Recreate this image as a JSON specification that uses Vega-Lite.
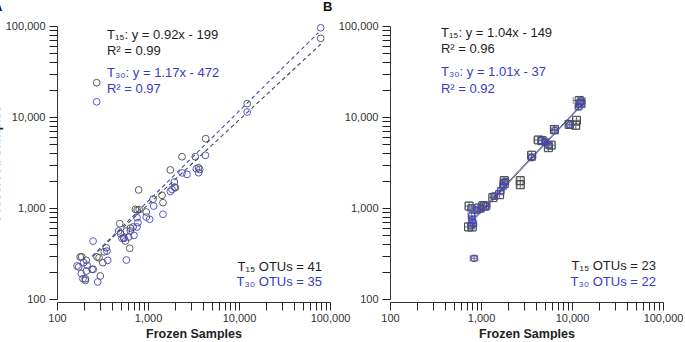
{
  "$schema": "https://vega.github.io/schema/vega-lite/v6.json",
  "autosize": {"type": "pad"},
  "padding": {"left": -11, "top": 1, "right": 0, "bottom": 0},
  "background": "white",
  "bounds": "flush",
  "spacing": 60,
  "config": {
    "view": {"stroke": null},
    "font": "Liberation Sans",
    "axis": {
      "grid": false,
      "ticks": true,
      "domainColor": "#333333",
      "tickColor": "#222222",
      "tickWidth": 1,
      "tickOpacity": 1,
      "tickSize": 8,
      "labelColor": "#333333",
      "labelFontSize": 11,
      "labelFlush": false,
      "labelOverlap": false,
      "labelPadding": 4,
      "titleFontSize": 12.5,
      "titleFontWeight": "bold",
      "titleColor": "#222222",
      "titlePadding": 3
    },
    "axisX": {"labelPadding": 2, "titlePadding": 4},
    "title": {"fontSize": 13, "fontWeight": "bold", "color": "#111111", "anchor": "start", "frame": "group", "baseline": "alphabetic", "offset": 6}
  },
  "datasets": {
    "pointsA": [
      {"s": "T15", "frozen": 273, "preserved": 23800},
      {"s": "T15", "frozen": 79000, "preserved": 73200},
      {"s": "T15", "frozen": 12300, "preserved": 14000},
      {"s": "T15", "frozen": 4300, "preserved": 5780},
      {"s": "T15", "frozen": 2365, "preserved": 3660},
      {"s": "T15", "frozen": 3310, "preserved": 3660},
      {"s": "T15", "frozen": 3600, "preserved": 2770},
      {"s": "T15", "frozen": 1760, "preserved": 2620},
      {"s": "T15", "frozen": 790, "preserved": 1580},
      {"s": "T15", "frozen": 1425, "preserved": 1380},
      {"s": "T15", "frozen": 1460, "preserved": 1145},
      {"s": "T15", "frozen": 1135, "preserved": 1250},
      {"s": "T15", "frozen": 727, "preserved": 968},
      {"s": "T15", "frozen": 957, "preserved": 904},
      {"s": "T15", "frozen": 760, "preserved": 950},
      {"s": "T15", "frozen": 489, "preserved": 673},
      {"s": "T15", "frozen": 578, "preserved": 559},
      {"s": "T15", "frozen": 684, "preserved": 618},
      {"s": "T15", "frozen": 564, "preserved": 433},
      {"s": "T15", "frozen": 630, "preserved": 361},
      {"s": "T15", "frozen": 348, "preserved": 366},
      {"s": "T15", "frozen": 275, "preserved": 290},
      {"s": "T15", "frozen": 318, "preserved": 251},
      {"s": "T15", "frozen": 180, "preserved": 290},
      {"s": "T15", "frozen": 187, "preserved": 290},
      {"s": "T15", "frozen": 173, "preserved": 225},
      {"s": "T15", "frozen": 205, "preserved": 167},
      {"s": "T15", "frozen": 299, "preserved": 179},
      {"s": "T15", "frozen": 210, "preserved": 203},
      {"s": "T15", "frozen": 290, "preserved": 284},
      {"s": "T15", "frozen": 210, "preserved": 266},
      {"s": "T15", "frozen": 2000, "preserved": 1670},
      {"s": "T15", "frozen": 500, "preserved": 520},
      {"s": "T15", "frozen": 330, "preserved": 330},
      {"s": "T15", "frozen": 540, "preserved": 470},
      {"s": "T15", "frozen": 1950, "preserved": 1700},
      {"s": "T15", "frozen": 250, "preserved": 212},
      {"s": "T15", "frozen": 800, "preserved": 960},
      {"s": "T15", "frozen": 205, "preserved": 160},
      {"s": "T15", "frozen": 3700, "preserved": 2650},
      {"s": "T15", "frozen": 640, "preserved": 600},
      {"s": "T30", "frozen": 273, "preserved": 14700},
      {"s": "T30", "frozen": 79000, "preserved": 95600},
      {"s": "T30", "frozen": 12300, "preserved": 11350},
      {"s": "T30", "frozen": 4270, "preserved": 3790},
      {"s": "T30", "frozen": 3600, "preserved": 2440},
      {"s": "T30", "frozen": 2680, "preserved": 2340},
      {"s": "T30", "frozen": 2365, "preserved": 2430},
      {"s": "T30", "frozen": 3400, "preserved": 2700},
      {"s": "T30", "frozen": 1945, "preserved": 1930},
      {"s": "T30", "frozen": 1835, "preserved": 1600},
      {"s": "T30", "frozen": 1760, "preserved": 1520},
      {"s": "T30", "frozen": 1460, "preserved": 853},
      {"s": "T30", "frozen": 1155, "preserved": 1050},
      {"s": "T30", "frozen": 1042, "preserved": 752},
      {"s": "T30", "frozen": 957, "preserved": 796},
      {"s": "T30", "frozen": 757, "preserved": 783},
      {"s": "T30", "frozen": 776, "preserved": 690},
      {"s": "T30", "frozen": 757, "preserved": 618},
      {"s": "T30", "frozen": 640, "preserved": 559},
      {"s": "T30", "frozen": 614, "preserved": 480},
      {"s": "T30", "frozen": 518, "preserved": 464},
      {"s": "T30", "frozen": 476, "preserved": 559},
      {"s": "T30", "frozen": 578, "preserved": 268},
      {"s": "T30", "frozen": 354, "preserved": 336},
      {"s": "T30", "frozen": 361, "preserved": 266},
      {"s": "T30", "frozen": 249, "preserved": 433},
      {"s": "T30", "frozen": 214, "preserved": 235},
      {"s": "T30", "frozen": 243, "preserved": 212},
      {"s": "T30", "frozen": 185, "preserved": 190},
      {"s": "T30", "frozen": 166, "preserved": 231},
      {"s": "T30", "frozen": 280, "preserved": 154},
      {"s": "T30", "frozen": 193, "preserved": 167},
      {"s": "T30", "frozen": 196, "preserved": 251},
      {"s": "T30", "frozen": 545, "preserved": 464},
      {"s": "T30", "frozen": 700, "preserved": 500}
    ],
    "fitA": [
      {"s": "T15", "frozen": 245, "preserved": 295},
      {"s": "T15", "frozen": 79000, "preserved": 63000},
      {"s": "T30", "frozen": 245, "preserved": 295},
      {"s": "T30", "frozen": 74500, "preserved": 84500}
    ],
    "equationsA": [
      {"s": "T15", "frozen": 354, "preserved": 79600, "label": "T₁₅: y = 0.92x - 199"},
      {"s": "T15", "frozen": 354, "preserved": 53100, "label": "R² = 0.99"},
      {"s": "T30", "frozen": 354, "preserved": 30500, "label": "T₃₀: y = 1.17x - 472"},
      {"s": "T30", "frozen": 354, "preserved": 20300, "label": "R² = 0.97"}
    ],
    "countsA": [
      {"s": "T15", "frozen": 81700, "preserved": 226, "label": "T₁₅ OTUs = 41"},
      {"s": "T30", "frozen": 81700, "preserved": 154, "label": "T₃₀ OTUs = 35"}
    ],
    "pointsB": [
      {"s": "T15", "frozen": 12000, "preserved": 15200, "flo": 10300, "fhi": 13900, "plo": 14200, "phi": 16300},
      {"s": "T15", "frozen": 12500, "preserved": 14000, "flo": 11200, "fhi": 13900, "plo": 13000, "phi": 15100},
      {"s": "T15", "frozen": 11200, "preserved": 9200, "flo": 10200, "fhi": 12300, "plo": 8400, "phi": 10100},
      {"s": "T15", "frozen": 11000, "preserved": 8100, "flo": 10000, "fhi": 12100, "plo": 7400, "phi": 8900},
      {"s": "T15", "frozen": 9300, "preserved": 8300, "flo": 8500, "fhi": 10200, "plo": 7600, "phi": 9100},
      {"s": "T15", "frozen": 6400, "preserved": 7300, "flo": 5800, "fhi": 7100, "plo": 6600, "phi": 8000},
      {"s": "T15", "frozen": 4300, "preserved": 5600, "flo": 3800, "fhi": 4900, "plo": 5100, "phi": 6100},
      {"s": "T15", "frozen": 4700, "preserved": 5500, "flo": 4200, "fhi": 5300, "plo": 5000, "phi": 6000},
      {"s": "T15", "frozen": 5500, "preserved": 4600, "flo": 5000, "fhi": 6100, "plo": 4200, "phi": 5000},
      {"s": "T15", "frozen": 5900, "preserved": 4900, "flo": 5300, "fhi": 6500, "plo": 4500, "phi": 5400},
      {"s": "T15", "frozen": 3600, "preserved": 3800, "flo": 3300, "fhi": 4000, "plo": 3400, "phi": 4200},
      {"s": "T15", "frozen": 1800, "preserved": 2000, "flo": 1650, "fhi": 1980, "plo": 1820, "phi": 2200},
      {"s": "T15", "frozen": 1800, "preserved": 1850, "flo": 1650, "fhi": 1980, "plo": 1680, "phi": 2030},
      {"s": "T15", "frozen": 2700, "preserved": 2000, "flo": 2500, "fhi": 2900, "plo": 1820, "phi": 2200},
      {"s": "T15", "frozen": 2700, "preserved": 1800, "flo": 2500, "fhi": 2900, "plo": 1640, "phi": 1980},
      {"s": "T15", "frozen": 1600, "preserved": 1400, "flo": 1450, "fhi": 1770, "plo": 1270, "phi": 1540},
      {"s": "T15", "frozen": 1350, "preserved": 1300, "flo": 1220, "fhi": 1490, "plo": 1180, "phi": 1430},
      {"s": "T15", "frozen": 1100, "preserved": 1050, "flo": 990, "fhi": 1220, "plo": 950, "phi": 1160},
      {"s": "T15", "frozen": 950, "preserved": 1000, "flo": 860, "fhi": 1050, "plo": 910, "phi": 1100},
      {"s": "T15", "frozen": 740, "preserved": 1050, "flo": 670, "fhi": 820, "plo": 950, "phi": 1160},
      {"s": "T15", "frozen": 800, "preserved": 620, "flo": 720, "fhi": 890, "plo": 560, "phi": 680},
      {"s": "T15", "frozen": 730, "preserved": 620, "flo": 660, "fhi": 810, "plo": 560, "phi": 680},
      {"s": "T15", "frozen": 1050, "preserved": 1060, "flo": 950, "fhi": 1160, "plo": 960, "phi": 1170},
      {"s": "T30", "frozen": 12300, "preserved": 14200, "flo": 11200, "fhi": 13500, "plo": 13000, "phi": 15500},
      {"s": "T30", "frozen": 11800, "preserved": 13000, "flo": 10800, "fhi": 12900, "plo": 11900, "phi": 14200},
      {"s": "T30", "frozen": 9500, "preserved": 8200, "flo": 8700, "fhi": 10400, "plo": 7500, "phi": 9000},
      {"s": "T30", "frozen": 6500, "preserved": 7100, "flo": 5900, "fhi": 7100, "plo": 6500, "phi": 7800},
      {"s": "T30", "frozen": 4600, "preserved": 5500, "flo": 4200, "fhi": 5000, "plo": 5000, "phi": 6000},
      {"s": "T30", "frozen": 5100, "preserved": 5300, "flo": 4700, "fhi": 5600, "plo": 4850, "phi": 5800},
      {"s": "T30", "frozen": 5600, "preserved": 4900, "flo": 5100, "fhi": 6100, "plo": 4500, "phi": 5400},
      {"s": "T30", "frozen": 3600, "preserved": 3600, "flo": 3300, "fhi": 3950, "plo": 3300, "phi": 3950},
      {"s": "T30", "frozen": 1850, "preserved": 1950, "flo": 1700, "fhi": 2020, "plo": 1780, "phi": 2130},
      {"s": "T30", "frozen": 1750, "preserved": 1750, "flo": 1600, "fhi": 1910, "plo": 1600, "phi": 1910},
      {"s": "T30", "frozen": 1650, "preserved": 1550, "flo": 1510, "fhi": 1800, "plo": 1420, "phi": 1690},
      {"s": "T30", "frozen": 1400, "preserved": 1350, "flo": 1280, "fhi": 1530, "plo": 1240, "phi": 1470},
      {"s": "T30", "frozen": 1150, "preserved": 1050, "flo": 1050, "fhi": 1260, "plo": 960, "phi": 1150},
      {"s": "T30", "frozen": 1000, "preserved": 980, "flo": 910, "fhi": 1090, "plo": 900, "phi": 1070},
      {"s": "T30", "frozen": 900, "preserved": 950, "flo": 820, "fhi": 980, "plo": 870, "phi": 1040},
      {"s": "T30", "frozen": 780, "preserved": 1000, "flo": 710, "fhi": 850, "plo": 910, "phi": 1090},
      {"s": "T30", "frozen": 790, "preserved": 820, "flo": 720, "fhi": 860, "plo": 750, "phi": 900},
      {"s": "T30", "frozen": 800, "preserved": 740, "flo": 730, "fhi": 870, "plo": 680, "phi": 810},
      {"s": "T30", "frozen": 820, "preserved": 680, "flo": 750, "fhi": 900, "plo": 620, "phi": 740},
      {"s": "T30", "frozen": 780, "preserved": 640, "flo": 710, "fhi": 850, "plo": 590, "phi": 700},
      {"s": "T30", "frozen": 840, "preserved": 280, "flo": 760, "fhi": 920, "plo": 265, "phi": 295},
      {"s": "T30", "frozen": 12600, "preserved": 15000, "flo": 11500, "fhi": 13800, "plo": 13800, "phi": 16300}
    ],
    "fitB": [
      {"s": "T15", "frozen": 770, "preserved": 680},
      {"s": "T15", "frozen": 12000, "preserved": 12600},
      {"s": "T30", "frozen": 780, "preserved": 720},
      {"s": "T30", "frozen": 12600, "preserved": 13600}
    ],
    "equationsB": [
      {"s": "T15", "frozen": 363, "preserved": 83100, "label": "T₁₅: y = 1.04x - 149"},
      {"s": "T15", "frozen": 363, "preserved": 55400, "label": "R² = 0.96"},
      {"s": "T30", "frozen": 363, "preserved": 31300, "label": "T₃₀: y = 1.01x - 37"},
      {"s": "T30", "frozen": 363, "preserved": 20500, "label": "R² = 0.92"}
    ],
    "countsB": [
      {"s": "T15", "frozen": 83700, "preserved": 231, "label": "T₁₅ OTUs = 23"},
      {"s": "T30", "frozen": 83700, "preserved": 154, "label": "T₃₀ OTUs = 22"}
    ]
  },
  "hconcat": [
    {
      "width": 273,
      "height": 273,
      "title": {"text": "A", "dx": -64},
      "encoding": {
        "x": {
          "field": "frozen", "type": "quantitative", "title": "Frozen Samples",
          "scale": {"type": "log", "domain": [100, 100000], "nice": false},
          "axis": {
            "offset": 3,
            "values": [100, 200, 300, 400, 500, 600, 700, 800, 900, 1000, 2000, 3000, 4000, 5000, 6000, 7000, 8000, 9000, 10000, 20000, 30000, 40000, 50000, 60000, 70000, 80000, 90000, 100000],
            "labelExpr": "indexof([100, 1000, 10000, 100000], datum.value) >= 0 ? format(datum.value, ',') : ''",
            "encode": {"ticks": {"update": {"y2": {"signal": "indexof([100, 1000, 10000, 100000], datum.value) >= 0 ? 8 : 4"}}}}
          }
        },
        "y": {
          "field": "preserved", "type": "quantitative", "title": "Preserved Samples",
          "scale": {"type": "log", "domain": [100, 100000], "nice": false},
          "axis": {
            "values": [100, 200, 300, 400, 500, 600, 700, 800, 900, 1000, 2000, 3000, 4000, 5000, 6000, 7000, 8000, 9000, 10000, 20000, 30000, 40000, 50000, 60000, 70000, 80000, 90000, 100000],
            "labelExpr": "indexof([100, 1000, 10000, 100000], datum.value) >= 0 ? format(datum.value, ',') : ''",
            "encode": {"ticks": {"update": {"x2": {"signal": "indexof([100, 1000, 10000, 100000], datum.value) >= 0 ? -8 : -4"}}}}
          }
        },
        "color": {"field": "s", "type": "nominal", "legend": null, "scale": {"domain": ["T15", "T30"], "range": ["#4a4a4a", "#4646c8"]}}
      },
      "layer": [
        {
          "data": {"name": "pointsA"},
          "mark": {"type": "point", "shape": "circle", "filled": false, "size": 46, "strokeWidth": 1, "opacity": 0.9}
        },
        {
          "data": {"name": "fitA"},
          "mark": {"type": "line", "strokeDash": [4, 3], "strokeWidth": 1.1},
          "encoding": {"detail": {"field": "s"}}
        },
        {
          "data": {"name": "equationsA"},
          "mark": {"type": "text", "align": "left", "baseline": "middle", "fontSize": 13},
          "encoding": {
            "text": {"field": "label"},
            "color": null,
            "fill": {"field": "s", "type": "nominal", "legend": null, "scale": {"domain": ["T15", "T30"], "range": ["#1e1e1e", "#3a3ac4"]}}
          }
        },
        {
          "data": {"name": "countsA"},
          "mark": {"type": "text", "align": "right", "baseline": "middle", "fontSize": 13},
          "encoding": {
            "text": {"field": "label"},
            "color": null,
            "fill": {"field": "s", "type": "nominal", "legend": null, "scale": {"domain": ["T15", "T30"], "range": ["#1e1e1e", "#3a3ac4"]}}
          }
        }
      ]
    },
    {
      "width": 273,
      "height": 273,
      "title": {"text": "B", "dx": -67},
      "encoding": {
        "x": {
          "field": "frozen", "type": "quantitative", "title": "Frozen Samples",
          "scale": {"type": "log", "domain": [100, 100000], "nice": false},
          "axis": {
            "offset": 3,
            "values": [100, 200, 300, 400, 500, 600, 700, 800, 900, 1000, 2000, 3000, 4000, 5000, 6000, 7000, 8000, 9000, 10000, 20000, 30000, 40000, 50000, 60000, 70000, 80000, 90000, 100000],
            "labelExpr": "indexof([100, 1000, 10000, 100000], datum.value) >= 0 ? format(datum.value, ',') : ''",
            "encode": {"ticks": {"update": {"y2": {"signal": "indexof([100, 1000, 10000, 100000], datum.value) >= 0 ? 8 : 4"}}}}
          }
        },
        "y": {
          "field": "preserved", "type": "quantitative", "title": null,
          "scale": {"type": "log", "domain": [100, 100000], "nice": false},
          "axis": {
            "values": [100, 200, 300, 400, 500, 600, 700, 800, 900, 1000, 2000, 3000, 4000, 5000, 6000, 7000, 8000, 9000, 10000, 20000, 30000, 40000, 50000, 60000, 70000, 80000, 90000, 100000],
            "labelExpr": "indexof([100, 1000, 10000, 100000], datum.value) >= 0 ? format(datum.value, ',') : ''",
            "encode": {"ticks": {"update": {"x2": {"signal": "indexof([100, 1000, 10000, 100000], datum.value) >= 0 ? -8 : -4"}}}}
          }
        },
        "color": {"field": "s", "type": "nominal", "legend": null, "scale": {"domain": ["T15", "T30"], "range": ["#5a5a5a", "#2e2e86"]}}
      },
      "layer": [
        {
          "data": {"name": "pointsB"},
          "mark": {"type": "errorbar", "ticks": {"size": 7}, "color": "#6a6a6a"},
          "encoding": {
            "x": {"field": "flo", "type": "quantitative", "title": "Frozen Samples", "scale": {"type": "log", "domain": [100, 100000], "nice": false}},
            "x2": {"field": "fhi"},
            "color": null
          }
        },
        {
          "data": {"name": "pointsB"},
          "mark": {"type": "errorbar", "ticks": {"size": 7}, "color": "#6a6a6a"},
          "encoding": {
            "y": {"field": "plo", "type": "quantitative", "title": null, "scale": {"type": "log", "domain": [100, 100000], "nice": false}},
            "y2": {"field": "phi"},
            "color": null
          }
        },
        {
          "data": {"name": "fitB"},
          "mark": {"type": "line", "strokeWidth": 0.9},
          "encoding": {"detail": {"field": "s"}}
        },
        {
          "data": {"name": "pointsB"},
          "transform": [{"filter": "datum.s === 'T15'"}],
          "mark": {"type": "point", "shape": "square", "filled": false, "size": 64, "strokeWidth": 1, "opacity": 1}
        },
        {
          "data": {"name": "pointsB"},
          "transform": [{"filter": "datum.s === 'T30'"}],
          "mark": {"type": "point", "shape": "circle", "filled": false, "size": 42, "strokeWidth": 1.2, "opacity": 1}
        },
        {
          "data": {"name": "equationsB"},
          "mark": {"type": "text", "align": "left", "baseline": "middle", "fontSize": 13},
          "encoding": {
            "text": {"field": "label"},
            "color": null,
            "fill": {"field": "s", "type": "nominal", "legend": null, "scale": {"domain": ["T15", "T30"], "range": ["#1e1e1e", "#3a3ac4"]}}
          }
        },
        {
          "data": {"name": "countsB"},
          "mark": {"type": "text", "align": "right", "baseline": "middle", "fontSize": 13},
          "encoding": {
            "text": {"field": "label"},
            "color": null,
            "fill": {"field": "s", "type": "nominal", "legend": null, "scale": {"domain": ["T15", "T30"], "range": ["#1e1e1e", "#3a3ac4"]}}
          }
        }
      ]
    }
  ]
}
